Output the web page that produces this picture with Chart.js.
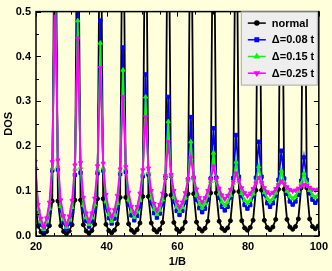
<!DOCTYPE html>
<html>
<head>
<meta charset="utf-8">
<script src="https://cdn.jsdelivr.net/npm/chart.js@4.4.1/dist/chart.umd.min.js"></script>
<style>
  html, body { margin: 0; padding: 0; background: #FFFFDC; }
  #wrap { width: 332px; height: 271px; }
</style>
</head>
<body>
<div id="wrap"><canvas id="dos" width="332" height="271"></canvas></div>
<script>
// wartości 1/B (oś x)
const invB = [
  19.8, 20.6, 21.4, 22.2,
  23.0, 23.8, 24.6, 25.4, 26.2, 27.0, 27.8, 28.6,
  29.4, 30.2, 31.0, 31.8, 32.6, 33.4, 34.2, 35.0,
  35.8, 36.6, 37.4, 38.2, 39.0, 39.8, 40.6, 41.4,
  42.2, 43.0, 43.8, 44.6, 45.4, 46.2, 47.0, 47.8,
  48.6, 49.4, 50.2, 51.0, 51.8, 52.6, 53.4, 54.2,
  55.0, 55.8, 56.6, 57.4, 58.2, 59.0, 59.8, 60.6,
  61.4, 62.2, 63.0, 63.8, 64.6, 65.4, 66.2, 67.0,
  67.8, 68.6, 69.4, 70.2, 71.0, 71.8, 72.6, 73.4,
  74.2, 75.0, 75.8, 76.6, 77.4, 78.2, 79.0, 79.8,
  80.6, 81.4, 82.2, 83.0, 83.8, 84.6, 85.4, 86.2,
  87.0, 87.8, 88.6, 89.4, 90.2, 91.0, 91.8, 92.6,
  93.4, 94.2, 95.0, 95.8, 96.6, 97.4, 98.2, 99.0,
  99.8, 100.6
];

// DOS - stan normalny
const dosNormal = [
  0.075, 0.022, 0.009, 0.004,
  0.010, 0.023, 0.078, 0.9, 0.078, 0.023, 0.010, 0.005,
  0.011, 0.025, 0.080, 0.9, 0.080, 0.025, 0.011, 0.006,
  0.012, 0.026, 0.083, 0.9, 0.083, 0.026, 0.012, 0.007,
  0.013, 0.027, 0.086, 0.9, 0.086, 0.027, 0.013, 0.008,
  0.014, 0.029, 0.088, 0.9, 0.088, 0.029, 0.014, 0.009,
  0.015, 0.030, 0.091, 0.9, 0.091, 0.030, 0.015, 0.010,
  0.016, 0.031, 0.094, 0.9, 0.094, 0.031, 0.016, 0.011,
  0.017, 0.033, 0.096, 0.9, 0.096, 0.033, 0.017, 0.012,
  0.018, 0.034, 0.099, 0.9, 0.099, 0.034, 0.018, 0.013,
  0.019, 0.035, 0.102, 0.9, 0.102, 0.035, 0.019, 0.014,
  0.020, 0.037, 0.104, 0.9, 0.104, 0.037, 0.020, 0.015,
  0.021, 0.038, 0.107, 0.9, 0.107, 0.038, 0.021, 0.016,
  0.022, 0.040
];

// DOS - Δ=0.08 t
const dosD008 = [
  0.150, 0.057, 0.026, 0.012,
  0.027, 0.055, 0.146, 0.62, 0.148, 0.057, 0.030, 0.015,
  0.028, 0.053, 0.136, 0.52, 0.141, 0.058, 0.034, 0.021,
  0.033, 0.058, 0.140, 0.48, 0.146, 0.064, 0.040, 0.028,
  0.039, 0.063, 0.138, 0.42, 0.143, 0.070, 0.046, 0.035,
  0.045, 0.066, 0.133, 0.36, 0.137, 0.073, 0.051, 0.041,
  0.050, 0.071, 0.130, 0.31, 0.134, 0.076, 0.056, 0.047,
  0.056, 0.075, 0.126, 0.265, 0.129, 0.081, 0.062, 0.053,
  0.061, 0.081, 0.128, 0.24, 0.130, 0.085, 0.065, 0.057,
  0.065, 0.086, 0.129, 0.225, 0.132, 0.089, 0.069, 0.061,
  0.069, 0.089, 0.130, 0.21, 0.132, 0.093, 0.073, 0.065,
  0.073, 0.090, 0.125, 0.19, 0.128, 0.094, 0.077, 0.070,
  0.077, 0.092, 0.123, 0.175, 0.125, 0.095, 0.081, 0.074,
  0.080, 0.094
];

// DOS - Δ=0.15 t
const dosD015 = [
  0.154, 0.060, 0.032, 0.015,
  0.032, 0.061, 0.151, 0.56, 0.155, 0.066, 0.037, 0.020,
  0.036, 0.064, 0.149, 0.48, 0.153, 0.069, 0.041, 0.026,
  0.041, 0.070, 0.147, 0.43, 0.152, 0.077, 0.048, 0.033,
  0.047, 0.073, 0.144, 0.37, 0.150, 0.081, 0.055, 0.042,
  0.054, 0.080, 0.139, 0.31, 0.142, 0.085, 0.060, 0.048,
  0.058, 0.081, 0.131, 0.255, 0.135, 0.087, 0.065, 0.055,
  0.064, 0.085, 0.123, 0.21, 0.128, 0.091, 0.072, 0.063,
  0.072, 0.090, 0.122, 0.185, 0.124, 0.094, 0.076, 0.068,
  0.076, 0.091, 0.118, 0.165, 0.121, 0.095, 0.080, 0.073,
  0.080, 0.094, 0.118, 0.155, 0.120, 0.097, 0.084, 0.077,
  0.083, 0.096, 0.116, 0.145, 0.118, 0.100, 0.089, 0.083,
  0.088, 0.100, 0.117, 0.14, 0.118, 0.102, 0.091, 0.086,
  0.091, 0.101
];

// DOS - Δ=0.25 t
const dosD025 = [
  0.166, 0.070, 0.039, 0.020,
  0.040, 0.075, 0.165, 0.52, 0.169, 0.080, 0.045, 0.025,
  0.044, 0.079, 0.158, 0.44, 0.163, 0.086, 0.051, 0.033,
  0.051, 0.084, 0.156, 0.375, 0.162, 0.092, 0.059, 0.042,
  0.058, 0.090, 0.149, 0.31, 0.154, 0.097, 0.066, 0.050,
  0.065, 0.095, 0.147, 0.265, 0.151, 0.101, 0.072, 0.057,
  0.070, 0.095, 0.134, 0.21, 0.137, 0.101, 0.076, 0.064,
  0.075, 0.096, 0.126, 0.175, 0.131, 0.104, 0.085, 0.075,
  0.085, 0.101, 0.125, 0.155, 0.127, 0.106, 0.091, 0.082,
  0.090, 0.103, 0.120, 0.14, 0.123, 0.107, 0.096, 0.089,
  0.095, 0.105, 0.118, 0.13, 0.119, 0.107, 0.098, 0.093,
  0.097, 0.105, 0.114, 0.122, 0.116, 0.109, 0.103, 0.100,
  0.102, 0.106, 0.111, 0.115, 0.112, 0.108, 0.104, 0.102,
  0.104, 0.106
];

const seriesNames = ['normal', 'Δ=0.08 t', 'Δ=0.15 t', 'Δ=0.25 t'];
const xTickValues = [20, 40, 60, 80, 100];
const yTickValues = [0.0, 0.1, 0.2, 0.3, 0.4, 0.5];

const BG = '#FFFFDC';
const FONT = { family: "'Liberation Sans', Arial, sans-serif", size: 11, weight: 'bold' };

// zamiana tablic na punkty {x, y}
function toPoints(ys) {
    return invB.map((x, i) => ({ x: x, y: ys[i] }));
}

function makeSet(label, ys, color, style, rot, radius, order) {
    return {
        label: label,
        data: toPoints(ys),
        borderColor: color,
        backgroundColor: color,
        borderWidth: 1.8,
        pointStyle: style,
        pointRotation: rot,
        pointRadius: radius,
        pointBorderWidth: 1,
        tension: 0,
        order: order
    };
}

// ramka z ticzkami do środka + legenda w ramce
const framePlugin = {
    id: 'framePlugin',
    beforeDraw(chart) {
        const ctx = chart.ctx;
        ctx.save();
        ctx.fillStyle = BG;
        ctx.fillRect(0, 0, chart.width, chart.height);
        ctx.restore();
    },
    afterDatasetsDraw(chart) {
        const { ctx, chartArea: a, scales: { x, y } } = chart;
        ctx.save();
        ctx.strokeStyle = '#000';
        ctx.lineWidth = 1;
        ctx.beginPath();
        for (let v = 20; v <= 100; v += 5) {
            const px = Math.round(x.getPixelForValue(v)) + 0.5;
            const len = v % 20 === 0 ? 5 : 3;
            ctx.moveTo(px, a.bottom); ctx.lineTo(px, a.bottom - len);
            ctx.moveTo(px, a.top); ctx.lineTo(px, a.top + len);
        }
        for (let k = 0; k <= 10; k++) {
            const v = k * 0.05;
            const py = Math.round(y.getPixelForValue(v)) + 0.5;
            const len = k % 2 === 0 ? 5 : 3;
            ctx.moveTo(a.left, py); ctx.lineTo(a.left + len, py);
            ctx.moveTo(a.right, py); ctx.lineTo(a.right - len, py);
        }
        ctx.stroke();
        ctx.lineWidth = 1.5;
        ctx.strokeRect(a.left, a.top, a.right - a.left, a.bottom - a.top);

        // legenda
        const bx = a.right - 78, by = a.top, bw = 77, bh = 74;
        ctx.fillStyle = '#EEEEEE';
        ctx.fillRect(bx, by, bw, bh);
        ctx.strokeStyle = '#AAAAAA';
        ctx.lineWidth = 1;
        ctx.strokeRect(bx + 0.5, by + 0.5, bw - 1, bh - 1);
        ctx.font = `bold ${FONT.size}px ${FONT.family}`;
        ctx.textBaseline = 'middle';
        ctx.textAlign = 'left';
        chart.data.datasets.forEach((ds, i) => {
            const ry = by + 11.5 + i * 16.7;
            ctx.strokeStyle = ds.borderColor;
            ctx.fillStyle = ds.borderColor;
            ctx.lineWidth = 1.5;
            ctx.beginPath();
            ctx.moveTo(bx + 7, ry); ctx.lineTo(bx + 25, ry);
            ctx.stroke();
            Chart.helpers.drawPoint(ctx, {
                pointStyle: ds.pointStyle, rotation: ds.pointRotation,
                radius: ds.pointRadius, borderWidth: 1
            }, bx + 16, ry);
            ctx.fillStyle = '#000';
            ctx.fillText(ds.label, bx + 31, ry + 0.5);
        });
        ctx.restore();
    }
};

new Chart(document.getElementById('dos'), {
    type: 'line',
    data: {
        datasets: [
            makeSet(seriesNames[0], dosNormal, '#000000', 'circle', 0, 2, 3),
            makeSet(seriesNames[1], dosD008, '#0000FF', 'rect', 0, 2.4, 2),
            makeSet(seriesNames[2], dosD015, '#00FF00', 'triangle', 0, 2.4, 1),
            makeSet(seriesNames[3], dosD025, '#FF00FF', 'triangle', 180, 2.4, 0)
        ]
    },
    options: {
        responsive: false,
        animation: false,
        layout: { padding: { left: 0, right: 10, top: 6, bottom: 0 } },
        plugins: { legend: { display: false }, tooltip: { enabled: false } },
        scales: {
            x: {
                type: 'linear', min: 20, max: 100,
                afterFit: s => { s.height = 35; },
                grid: { display: false, drawTicks: false },
                border: { display: false },
                afterBuildTicks: s => { s.ticks = xTickValues.map(v => ({ value: v })); },
                ticks: { color: '#000', font: FONT, padding: 4, maxRotation: 0 },
                title: { display: true, text: '1/B', color: '#000', font: FONT, padding: { top: 0, bottom: 2 } }
            },
            y: {
                type: 'linear', min: 0, max: 0.5,
                afterFit: s => { s.width = 36; },
                grid: { display: false, drawTicks: false },
                border: { display: false },
                afterBuildTicks: s => { s.ticks = yTickValues.map(v => ({ value: v })); },
                ticks: { color: '#000', font: FONT, padding: 5, callback: v => Number(v).toFixed(1) },
                title: { display: true, text: 'DOS', color: '#000', font: FONT, padding: { top: 2, bottom: 0 } }
            }
        }
    },
    plugins: [framePlugin]
});
</script>
</body>
</html>
